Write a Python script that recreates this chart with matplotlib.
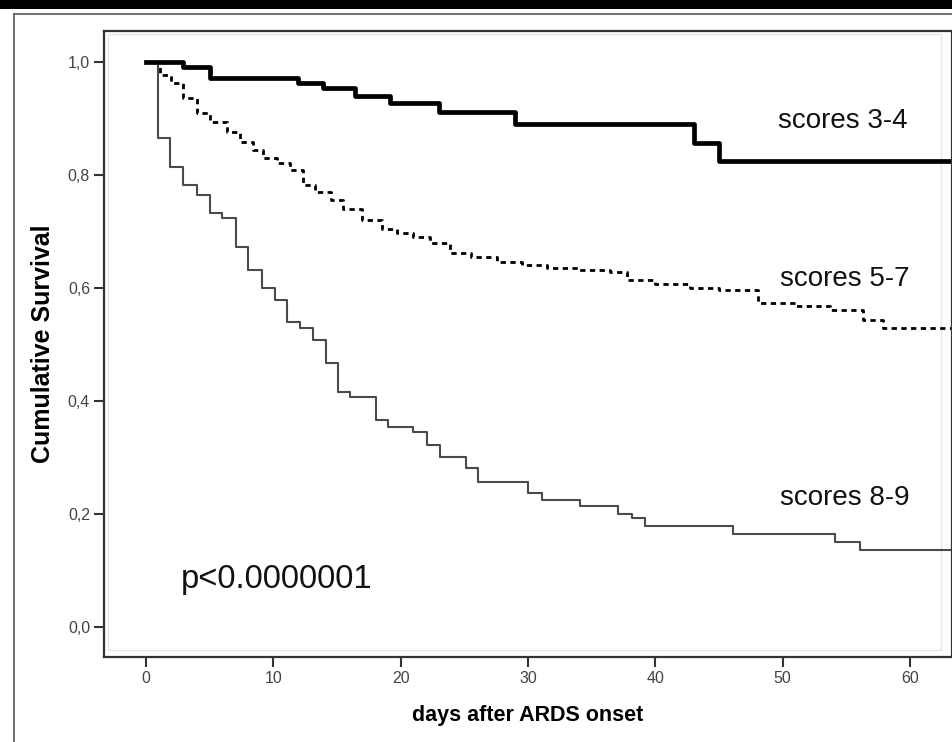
import matplotlib
matplotlib.use('Agg')
import matplotlib.pyplot as plt
from matplotlib.lines import Line2D
from matplotlib.patches import Rectangle

plt.rcParams['font.family'] = ['Liberation Sans', 'DejaVu Sans']

###survival curves (days, cumulative survival)
t_34 = [0, 2.9, 5.0, 11.9, 13.9, 16.4, 19.2, 23.0, 29.0, 43.0, 45.0, 63.3]
s_34 = [1.0, 0.992, 0.972, 0.963, 0.954, 0.94, 0.927, 0.912, 0.89, 0.857, 0.825, 0.825]

t_57 = [0, 1.1, 2.0, 2.9, 4.0, 5.0, 6.4, 7.4, 8.4, 9.2, 10.3, 11.3, 12.3, 13.3, 14.5,
        15.5, 17.0, 18.5, 19.7, 21.0, 22.3, 23.9, 25.5, 27.6, 29.5, 31.5, 34.0, 36.4,
        37.8, 40.0, 42.7, 45.0, 48.1, 51.0, 53.7, 56.3, 57.9, 63.3]
s_57 = [1.0, 0.977, 0.963, 0.936, 0.91, 0.894, 0.876, 0.858, 0.844, 0.83, 0.821, 0.809,
        0.782, 0.77, 0.756, 0.74, 0.72, 0.705, 0.697, 0.69, 0.68, 0.662, 0.655, 0.646,
        0.64, 0.635, 0.632, 0.628, 0.614, 0.607, 0.6, 0.596, 0.573, 0.568, 0.561, 0.543,
        0.529, 0.529]

t_89 = [0, 0.95, 1.9, 2.9, 4.0, 5.0, 6.0, 7.1, 8.0, 9.1, 10.1, 11.1, 12.1, 13.1, 14.1,
        15.1, 16.0, 18.1, 19.0, 21.0, 22.1, 23.1, 25.1, 26.1, 30.0, 31.1, 34.1, 37.1,
        38.2, 39.2, 46.1, 54.1, 56.1, 63.3]
s_89 = [1.0, 0.865, 0.814, 0.782, 0.765, 0.733, 0.724, 0.673, 0.632, 0.6, 0.579, 0.54,
        0.529, 0.508, 0.467, 0.416, 0.407, 0.366, 0.354, 0.345, 0.322, 0.301, 0.281,
        0.257, 0.237, 0.225, 0.214, 0.2, 0.193, 0.179, 0.164, 0.151, 0.136, 0.136]

x_ticks = [0, 10, 20, 30, 40, 50, 60]
y_ticks = [0.0, 0.2, 0.4, 0.6, 0.8, 1.0]
y_ticklabels = ['0,0', '0,2', '0,4', '0,6', '0,8', '1,0']

###plotting
fig = plt.figure(figsize=(9.53, 7.42), dpi=100)
ax = fig.add_axes([0.1091, 0.1146, 0.8899, 0.8436])

ax.step(t_89, s_89, where='post', color='#4a4a4a', lw=1.5)
ax.step(t_57, s_57, where='post', color='black', lw=2.0, linestyle=(0, (1.9, 1.6)))
ax.step(t_34, s_34, where='post', color='black', lw=3.4)

ax.set_xlim(-3.3, 63.3)
ax.set_ylim(-0.053, 1.055)
ax.set_xticks(x_ticks)
ax.set_yticks(y_ticks)
ax.set_yticklabels(y_ticklabels)
ax.tick_params(direction='out', length=7, width=1.5, color='#333333',
               labelsize=11.5, labelcolor='#444444', pad=3)
for sp in ax.spines.values():
    sp.set_color('#333333')
    sp.set_linewidth(1.6)

# faint inner data frame
ax.add_patch(Rectangle((-3.0, -0.041), 65.4, 1.09, fill=False, ec='#e6e6e6', lw=1.0))

ax.set_xlabel('days after ARDS onset', fontsize=15.5, fontweight='bold', labelpad=14)
ax.set_ylabel('Cumulative Survival', fontsize=18, fontweight='bold', labelpad=9)

ax.text(49.6, 0.883, 'scores 3-4', fontsize=20, color='#111111')
ax.text(49.8, 0.604, 'scores 5-7', fontsize=20, color='#111111')
ax.text(49.8, 0.216, 'scores 8-9', fontsize=20, color='#111111')
ax.text(2.7, 0.069, 'p<0.0000001', fontsize=23.5, color='#111111')

# outer frame and black band at the top
fig.add_artist(Rectangle((0, 1 - 9 / 742), 1, 9 / 742, transform=fig.transFigure,
                         color='black', lw=0))
fig.add_artist(Line2D([14 / 953, 14 / 953], [0, 1 - 14 / 742], transform=fig.transFigure,
                      color='#666666', lw=1.3))
fig.add_artist(Line2D([14 / 953, 1], [1 - 14 / 742, 1 - 14 / 742], transform=fig.transFigure,
                      color='#666666', lw=1.3))

plt.savefig('out.png', dpi=100)
